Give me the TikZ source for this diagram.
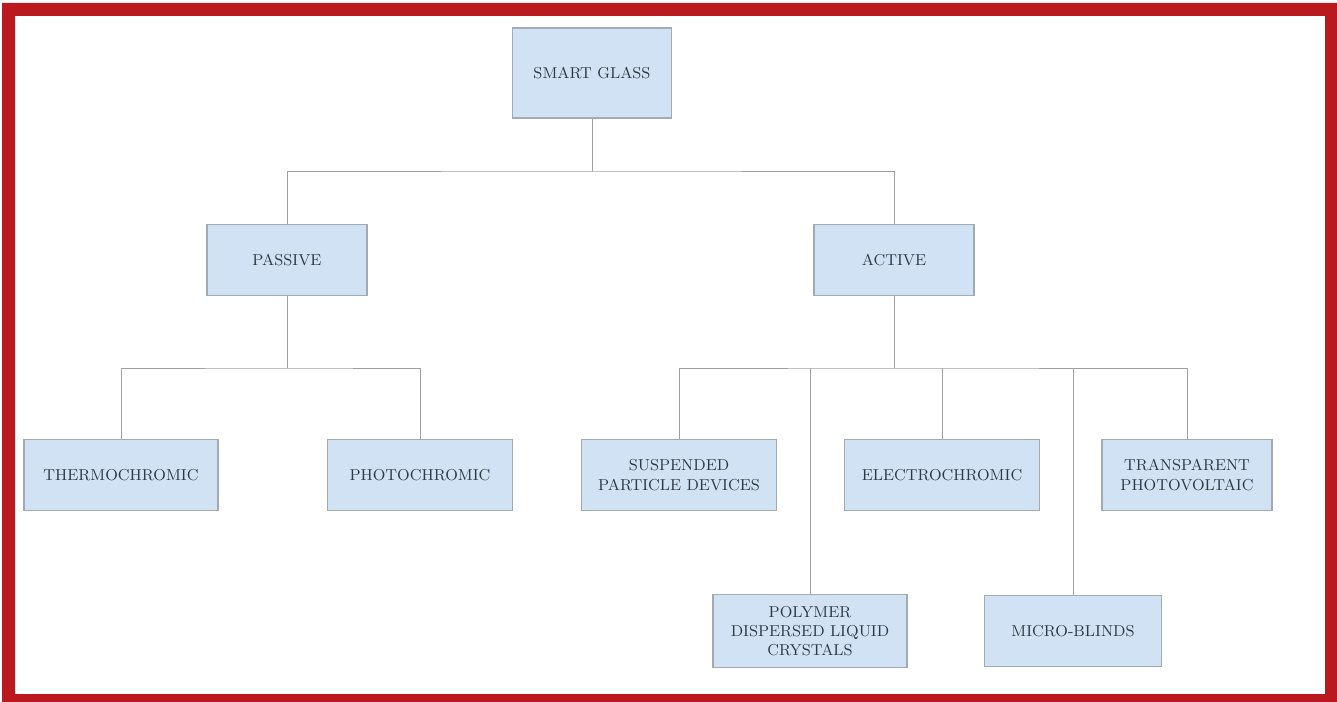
\documentclass[tikz,border=0pt]{standalone}
\usepackage{tikz}
\usetikzlibrary{positioning}
\definecolor{framered}{HTML}{BA1A1F}
\definecolor{boxfill}{HTML}{D0E2F3}
\definecolor{boxline}{HTML}{A2AAB3}
\definecolor{wirecol}{HTML}{A0A0A0}
\definecolor{textcol}{HTML}{2E3843}
\begin{document}
\begin{tikzpicture}[x=0.02cm,y=-0.02cm,
  box/.style={draw=boxline,line width=0.8pt,fill=boxfill,align=center,inner sep=0pt,
    minimum height=1.42cm,text=textcol,font=\fontsize{9}{11}\selectfont},
  wire/.style={draw=wirecol,line width=0.55pt}]
  % background and frame
  \fill[white] (0,0) rectangle (1337,702);
  \fill[framered,even odd rule] (2,3) rectangle (1337,702) (15,16) rectangle (1325,694);

  \node[box,minimum width=3.18cm,minimum height=1.8cm] (sg) at (592,73) {SMART GLASS};

  \node[box,minimum width=3.2cm] (passive) at (287,260) {PASSIVE};
  \node[box,minimum width=3.2cm] (active) at (894,260) {ACTIVE};

  \node[box,minimum width=3.88cm] (thermo) at (121,475) {THERMOCHROMIC};
  \node[box,minimum width=3.7cm] (photo) at (420,475) {PHOTOCHROMIC};

  \node[box,minimum width=3.9cm] (spd) at (679,475) {SUSPENDED\\PARTICLE DEVICES};
  \node[box,minimum width=3.9cm] (electro) at (942,475) {ELECTROCHROMIC};
  \node[box,minimum width=3.4cm] (tpv) at (1187,475) {TRANSPARENT\\PHOTOVOLTAIC};
  \node[box,minimum width=3.88cm,minimum height=1.46cm] (pdlc) at (810,631) {POLYMER\\DISPERSED LIQUID\\CRYSTALS};
  \node[box,minimum width=3.54cm] (blinds) at (1073,631) {MICRO-BLINDS};

  % junctions
  \coordinate (j1) at (592,171);
  \coordinate (j2) at (287,368);
  \coordinate (j3) at (894,368);

  \draw[wire] (sg) -- (j1);
  \draw[wire] (passive.north) |- (j1) -| (active.north);
  \draw[wire] (passive) -- (j2);
  \draw[wire] (thermo.north) |- (j2) -| (photo.north);
  \draw[wire] (active) -- (j3);
  \draw[wire] (spd.north) |- (j3) -| (tpv.north);
  \draw[wire] (pdlc.north) -- (pdlc.north |- j3);
  \draw[wire] (electro.north) -- (electro.north |- j3);
  \draw[wire] (blinds.north) -- (blinds.north |- j3);
\end{tikzpicture}
\end{document}
